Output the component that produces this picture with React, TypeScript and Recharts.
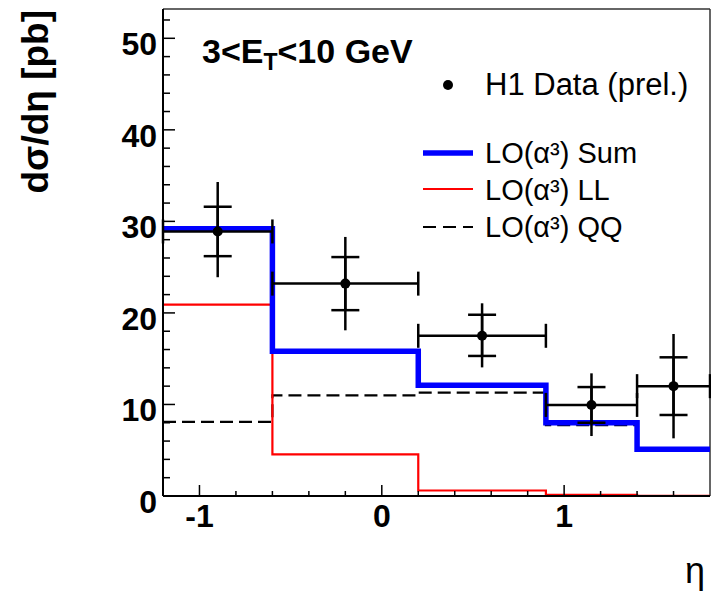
import React from 'react';
import { ComposedChart, Line, Scatter, ErrorBar, XAxis, YAxis, ReferenceLine } from 'recharts';

const FONT = '"Liberation Sans", Arial, Helvetica, sans-serif';

// histogram bin edges in eta and the three LO(alpha^3) predictions
const binEdges = [-1.2, -0.6, 0.2, 0.9, 1.4, 1.8];
const sumVals = [29.2, 15.8, 12.1, 8.0, 5.1];
const llVals = [20.9, 4.55, 0.6, 0.12, 0.02];
const qqVals = [8.1, 11.0, 11.3, 7.75, 5.0];

// H1 data points
const ptEta = [-0.9, -0.2, 0.55, 1.15, 1.6];
const ptVal = [28.9, 23.2, 17.5, 9.95, 12.0];
const ptHalfWidth = [0.3, 0.4, 0.35, 0.25, 0.2];
const totLo = [5.0, 5.1, 3.45, 3.4, 5.7];
const totHi = [5.4, 5.1, 3.55, 3.45, 5.7];
const statLo = [2.7, 2.9, 2.2, 1.95, 3.15];
const statHi = [2.7, 2.9, 2.3, 1.95, 3.15];

const xTicks = [-1, -0.8, -0.6, -0.4, -0.2, 0, 0.2, 0.4, 0.6, 0.8, 1, 1.2, 1.4, 1.6];
const yTicks = [0, 2, 4, 6, 8, 10, 12, 14, 16, 18, 20, 22, 24, 26, 28, 30, 32, 34, 36, 38, 40, 42, 44, 46, 48, 50, 52];
const yMax = 53.2;

const toSteps = (vals: number[]) =>
  binEdges.map((x, i) => ({ x, y: vals[Math.min(i, vals.length - 1)] }));

const sumData = toSteps(sumVals);
const llData = toSteps(llVals);
const qqData = toSteps(qqVals);

const points = ptEta.map((x, i) => ({
  x,
  y: ptVal[i],
  xe: ptHalfWidth[i],
  tot: [totLo[i], totHi[i]],
  stat: [statLo[i], statHi[i]],
}));

const YTick = (props: any) => {
  const { x, y, payload } = props;
  const v = payload.value;
  const major = v % 10 === 0;
  return (
    <g>
      <line x1={x} x2={x + (major ? 12 : 7)} y1={y} y2={y} stroke="#000" strokeWidth={1.5} />
      {major && (
        <text x={x - 6} y={y + 17} textAnchor="end" fontFamily={FONT} fontWeight="bold" fontSize={32} fill="#000">
          {v}
        </text>
      )}
    </g>
  );
};

const XTick = (props: any) => {
  const { x, y, payload } = props;
  const v = payload.value;
  const major = Math.abs(v - Math.round(v)) < 1e-6;
  return (
    <g>
      <line x1={x} x2={x} y1={y} y2={y - (major ? 11 : 5)} stroke="#000" strokeWidth={1.5} />
      {major && (
        <text x={x} y={y + 31} textAnchor="middle" fontFamily={FONT} fontWeight="bold" fontSize={32} fill="#000">
          {Math.round(v)}
        </text>
      )}
    </g>
  );
};

const Dot = (props: any) => <circle cx={props.cx} cy={props.cy} r={5} fill="#000" />;

export default function App() {
  return (
    <div style={{ position: 'absolute', left: 0, top: 0, width: 711, height: 595, background: '#fff' }}>
      <ComposedChart width={711} height={595} margin={{ top: 9, right: 1, left: 0, bottom: 0 }}>
        <XAxis
          type="number"
          dataKey="x"
          domain={[-1.2, 1.8]}
          allowDataOverflow
          ticks={xTicks}
          interval={0}
          height={99}
          tickSize={0}
          tickMargin={0}
          tickLine={false}
          tick={XTick}
          axisLine={{ stroke: '#000', strokeWidth: 2 }}
        />
        <YAxis
          type="number"
          dataKey="y"
          domain={[0, yMax]}
          allowDataOverflow
          ticks={yTicks}
          interval={0}
          width={163}
          tickSize={0}
          tickMargin={0}
          tickLine={false}
          tick={YTick}
          axisLine={{ stroke: '#000', strokeWidth: 2 }}
        />
        <ReferenceLine y={yMax} stroke="#333" strokeWidth={1.5} />
        <ReferenceLine x={1.8} stroke="#333" strokeWidth={1.5} />
        <Line data={qqData} dataKey="y" type="stepAfter" stroke="#000" strokeWidth={2.2} strokeDasharray="13 6" dot={false} isAnimationActive={false} />
        <Line data={llData} dataKey="y" type="stepAfter" stroke="#ff0000" strokeWidth={2.2} dot={false} isAnimationActive={false} />
        <Line data={sumData} dataKey="y" type="stepAfter" stroke="#0000ff" strokeWidth={5.5} dot={false} isAnimationActive={false} />
        <Scatter data={points} dataKey="y" shape={Dot} isAnimationActive={false}>
          <ErrorBar dataKey="tot" direction="y" width={0} stroke="#000" strokeWidth={2.5} isAnimationActive={false} />
          <ErrorBar dataKey="stat" direction="y" width={14} stroke="#000" strokeWidth={2.5} isAnimationActive={false} />
          <ErrorBar dataKey="xe" direction="x" width={12} stroke="#000" strokeWidth={2.5} isAnimationActive={false} />
        </Scatter>
      </ComposedChart>
      <svg width={711} height={595} style={{ position: 'absolute', left: 0, top: 0, pointerEvents: 'none' }}>
        <text x={202} y={63} fontFamily={FONT} fontWeight="bold" fontSize={34} fill="#000">
          3&lt;E
          <tspan fontSize={23} dy={7}>T</tspan>
          <tspan dy={-7}>&lt;10 GeV</tspan>
        </text>
        <text
          x={48}
          y={10}
          transform="rotate(-90 48 10)"
          textAnchor="end"
          fontFamily={FONT}
          fontWeight="bold"
          fontSize={37}
          fill="#000"
        >
          dσ/dη [pb]
        </text>
        <text x={705} y={583} textAnchor="end" fontFamily={FONT} fontSize={36} fill="#000">
          η
        </text>
        <circle cx={448} cy={85} r={5} fill="#000" />
        <text x={485} y={95} fontFamily={FONT} fontSize={31} fill="#000">H1 Data (prel.)</text>
        <line x1={423} x2={473} y1={153} y2={153} stroke="#0000ff" strokeWidth={5.5} />
        <text x={485} y={163} fontFamily={FONT} fontSize={29} fill="#000">LO(α³) Sum</text>
        <line x1={423} x2={473} y1={189} y2={189} stroke="#ff0000" strokeWidth={2.2} />
        <text x={485} y={200} fontFamily={FONT} fontSize={29} fill="#000">LO(α³) LL</text>
        <line x1={423} x2={473} y1={227} y2={227} stroke="#000" strokeWidth={2.2} strokeDasharray="13 7" />
        <text x={485} y={237} fontFamily={FONT} fontSize={29} fill="#000">LO(α³) QQ</text>
      </svg>
    </div>
  );
}
